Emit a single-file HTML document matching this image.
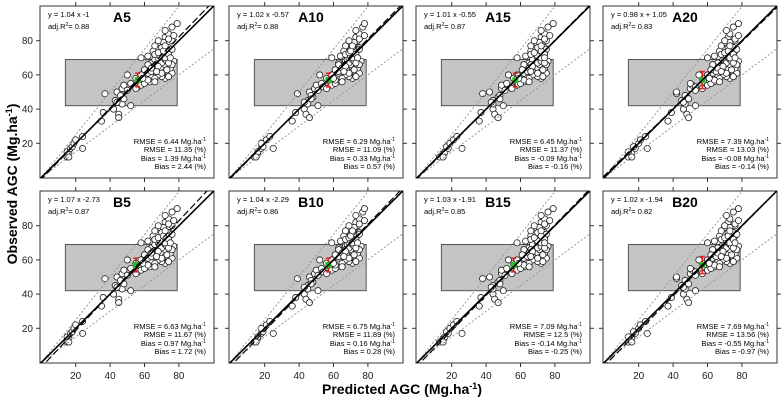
<!DOCTYPE html>
<html><head><meta charset="utf-8">
<style>
html,body{margin:0;padding:0;background:#fff;}
body{width:784px;height:404px;overflow:hidden;font-family:"Liberation Sans",Arial,sans-serif;}
svg text{font-family:"Liberation Sans",Arial,sans-serif;}
</style></head>
<body>
<svg id="chart" width="784" height="404" viewBox="0 0 784 404" xmlns="http://www.w3.org/2000/svg">
<text x="402" y="394" font-size="14" font-weight="bold" text-anchor="middle">Predicted AGC (Mg.ha<tspan font-size="9" dy="-5">-1</tspan><tspan dy="5">)</tspan></text>
<text x="0" y="0" transform="translate(17,184) rotate(-90)" font-size="14" font-weight="bold" text-anchor="middle">Observed AGC (Mg.ha<tspan font-size="9" dy="-5">-1</tspan><tspan dy="5">)</tspan></text>
</svg>
<script>
const panelNames = ["A5","A10","A15","A20","B5","B10","B15","B20"];
const slopes = [1.04,1.02,1.01,0.98,1.07,1.04,1.03,1.02];
const intercepts = [-1,-0.57,-0.55,1.05,-2.73,-2.29,-1.91,-1.94];
const eqLabels = ["y =  1.04 x  -1","y =  1.02 x  -0.57","y =  1.01 x  -0.55","y =  0.98 x + 1.05","y =  1.07 x  -2.73","y =  1.04 x  -2.29","y =  1.03 x  -1.91","y =  1.02 x  -1.94"];
const r2Labels = ["0.88","0.88","0.87","0.83","0.87","0.86","0.85","0.82"];
const rmseAbs = ["6.44","6.29","6.45","7.39","6.63","6.75","7.09","7.69"];
const rmsePct = ["11.35","11.09","11.37","13.03","11.67","11.89","12.5","13.56"];
const biasAbs = ["1.39","0.33","-0.09","-0.08","0.97","0.16","-0.14","-0.55"];
const biasPct = ["2.44","0.57","-0.16","-0.14","1.72","0.28","-0.25","-0.97"];
const rangeX = [14,79];
const rangeY = [42,69];
const meanPred = [56,57,57,57,55,57,56,57];
const meanObs = [57,57,57,57,57,57,57,57];
const meanErr = [4,4,4,5,4,4,4,5];
const tickVals = [20,40,60,80];
const observed = [12,14,15,17,18,12,20,22,24,17, 33,38,49,40,37,35,45,47,50,52,54,48,43,42,44,46,
 55,57,58,60,62,59,56,53,61,63, 65,64,66,68,70,67,69,71,72,73, 74,75,76,78,79,80,82,84,86,88,
 90,77,74,70,66,62,60,58,56,54, 52,51,57,59,61,63,65,67,69,72, 64,68,71,75,60,62,58,55,66,70,
 73,63,60,57, 79,81,76,74,72,68,66,64,61,59,63,67,70,77,83,80,65,62,58,56];
const predA5 = [15,16,15,17,18,16,19,20,24,24, 35,36,37,42,45,45,43,47,44,47,48,46,47,52,44,48,
 52,58,55,50,60,64,57,56,62,66, 75,70,72,68,58,64,66,62,70,74, 65,72,74,70,68,76,72,74,72,76,
 79,66,74,68,68,72,74,72,63,58, 55,50,60,70,76,66,63,70,72,66, 75,73,69,76,68,64,66,60,62,72,
 68,73,58,62, 71,74,70,71,74,77,76,64,70,74,60,74,75,72,77,68,68,67,59,66];
const predA10 = [14,16,16,18,19,15,18,21,23,25, 36,38,39,43,44,46,45,48,46,49,50,47,45,51,43,47,
 53,57,56,52,61,63,58,54,63,65, 74,71,70,67,59,63,68,64,71,73, 66,70,75,72,69,74,73,75,73,77,
 78,67,73,69,67,71,73,71,62,59, 56,51,61,69,75,65,64,69,71,67, 74,72,70,75,67,63,65,61,63,71,
 69,72,59,61, 72,75,71,70,73,76,75,65,69,73,61,73,74,71,78,69,67,66,60,65];
const predA15 = [13,15,16,18,17,15,19,21,23,26, 36,37,38,44,45,47,44,47,42,49,49,48,44,50,43,48,
 52,58,56,53,62,64,57,55,62,67, 74,70,71,69,58,65,67,63,72,74, 66,72,74,71,69,75,72,74,72,76,
 79,66,73,70,66,72,73,72,62,58, 55,51,62,70,75,66,63,70,72,66, 74,72,70,75,67,64,65,60,62,72,
 68,73,58,62, 71,74,70,72,74,76,75,65,70,73,61,74,74,72,77,68,67,66,59,65];
const predA20 = [14,16,14,18,17,16,20,21,24,25, 37,39,42,46,48,49,45,48,42,50,51,47,47,53,46,49,
 50,60,57,55,63,66,58,53,63,67, 76,72,73,70,60,66,69,64,72,74, 67,73,75,72,70,76,72,73,71,75,
 78,68,76,70,70,74,75,73,64,60, 57,53,61,71,77,67,64,71,73,68, 76,74,71,77,69,65,67,62,63,73,
 70,74,60,64, 73,76,72,72,75,78,77,66,71,75,62,75,76,73,78,70,69,68,61,67];
const predSets = [predA5,predA10,predA15,predA20,predA5,predA10,predA15,predA20];

const NS = "http://www.w3.org/2000/svg";
const svg = document.getElementById("chart");
const colLeft = [40,229,416,603];
const rowTop = [6,191];
const boxW = 174, boxH = 172;
function mk(tag, attrs, parent){
  const e = document.createElementNS(NS, tag);
  for (const k in attrs) e.setAttribute(k, attrs[k]);
  (parent||svg).appendChild(e);
  return e;
}
panelNames.forEach((name, i) => {
  const col = i % 4, row = Math.floor(i / 4);
  const L = colLeft[col], T = rowTop[row];
  const sx = v => L + 1.3 + v * 1.72;
  const sy = v => T + boxH - 0.5 - v * 1.71;
  const g = mk("g", {});
  
  
  const cid = "clip" + i;
  const cp = mk("clipPath", {id: cid}, g);
  mk("rect", {x: L, y: T, width: boxW, height: boxH}, cp);
  const rr = mk("rect", {x: sx(rangeX[0]), y: sy(rangeY[1]), width: sx(rangeX[1]) - sx(rangeX[0]), height: sy(rangeY[0]) - sy(rangeY[1]), fill: "#c4c4c4", stroke: "#555", "stroke-width": 1}, g);
  
  
  const lines = mk("g", {"clip-path": "url(#" + cid + ")"}, g);
  const d1 = mk("line", {x1: sx(0), y1: sy(0), x2: sx(100), y2: sy(125), stroke: "#999", "stroke-width": 1, "stroke-dasharray": "2,2"}, lines);
  
  
  const d2 = mk("line", {x1: sx(0), y1: sy(0), x2: sx(100), y2: sy(75), stroke: "#999", "stroke-width": 1, "stroke-dasharray": "2,2"}, lines);
  
  
  const pred = predSets[i];
  observed.forEach((o, k) => {
    const c = mk("circle", {cx: sx(pred[k]), cy: sy(o), r: 3.1, fill: "#fff", stroke: "#222", "stroke-width": 0.8}, g);
    
    
  });
  const one = mk("line", {x1: sx(-5), y1: sy(-5), x2: sx(110), y2: sy(110), stroke: "#000", "stroke-width": 1.6}, lines);
  
  
  const fit = mk("line", {x1: sx(-5), y1: sy(slopes[i] * -5 + intercepts[i]), x2: sx(110), y2: sy(slopes[i] * 110 + intercepts[i]), stroke: "#000", "stroke-width": 1.2, "stroke-dasharray": "7,3"}, lines);
  
  
  svg.appendChild(lines);
  const mx = sx(meanPred[i]), my = sy(meanObs[i]), e = meanErr[i] * 1.71;
  const eb = mk("path", {d: `M${mx},${my - e}V${my + e}M${mx - 2.5},${my - e}H${mx + 2.5}M${mx - 2.5},${my + e}H${mx + 2.5}`, stroke: "#e02020", "stroke-width": 1.5, fill: "none"}, g);
  
  
  const ms = mk("rect", {x: mx - 3, y: my - 3, width: 6, height: 6, fill: "#22c022"}, g);
  
  
  const fr = mk("rect", {x: L, y: T, width: boxW, height: boxH, fill: "none", stroke: "#333", "stroke-width": 1}, g);
  
  
  tickVals.forEach(t => {
    mk("line", {x1: sx(t), y1: T + boxH, x2: sx(t), y2: T + boxH + 4, stroke: "#333"}, g);
    mk("line", {x1: sx(t), y1: T, x2: sx(t), y2: T - 4, stroke: "#333"}, g);
    mk("line", {x1: L, y1: sy(t), x2: L - 4, y2: sy(t), stroke: "#333"}, g);
    mk("line", {x1: L + boxW, y1: sy(t), x2: L + boxW + 4, y2: sy(t), stroke: "#333"}, g);
    if (col === 0) {
      const yl = mk("text", {x: L - 7, y: sy(t) + 3.5, "font-size": 10, "text-anchor": "end", fill: "#222"}, g);
      yl.textContent = t;
      
      
    }
    if (row === 1) {
      const xl = mk("text", {x: sx(t), y: T + boxH + 16, "font-size": 10, "text-anchor": "middle", fill: "#222"}, g);
      xl.textContent = t;
      
      
    }
  });
  const pl = mk("text", {x: L + 82, y: T + 16, "font-size": 14, "font-weight": "bold", "text-anchor": "middle"}, g);
  pl.textContent = name;
  
  
  const eq = mk("text", {x: L + 8, y: T + 11, "font-size": 7.5}, g);
  eq.textContent = eqLabels[i];
  
  
  const r2 = mk("text", {x: L + 8, y: T + 23, "font-size": 7.5}, g);
  r2.innerHTML = 'adj.R<tspan font-size="5" dy="-3">2</tspan><tspan dy="3">= ' + r2Labels[i] + '</tspan>';
  
  
  const RX = L + boxW - 8;
  const stats = [
    'RMSE = ' + rmseAbs[i] + '  Mg.ha<tspan font-size="5" dy="-3">-1</tspan>',
    'RMSE = ' + rmsePct[i] + '  (%)',
    'Bias = ' + biasAbs[i] + '  Mg.ha<tspan font-size="5" dy="-3">-1</tspan>',
    'Bias = ' + biasPct[i] + '  (%)'
  ];
  const sys = [138, 146, 155, 163];
  stats.forEach((s, k) => {
    const st = mk("text", {x: RX, y: T + sys[k], "font-size": 7.5, "text-anchor": "end"}, g);
    st.innerHTML = s;
    
    
  });
});
</script>
</body></html>
